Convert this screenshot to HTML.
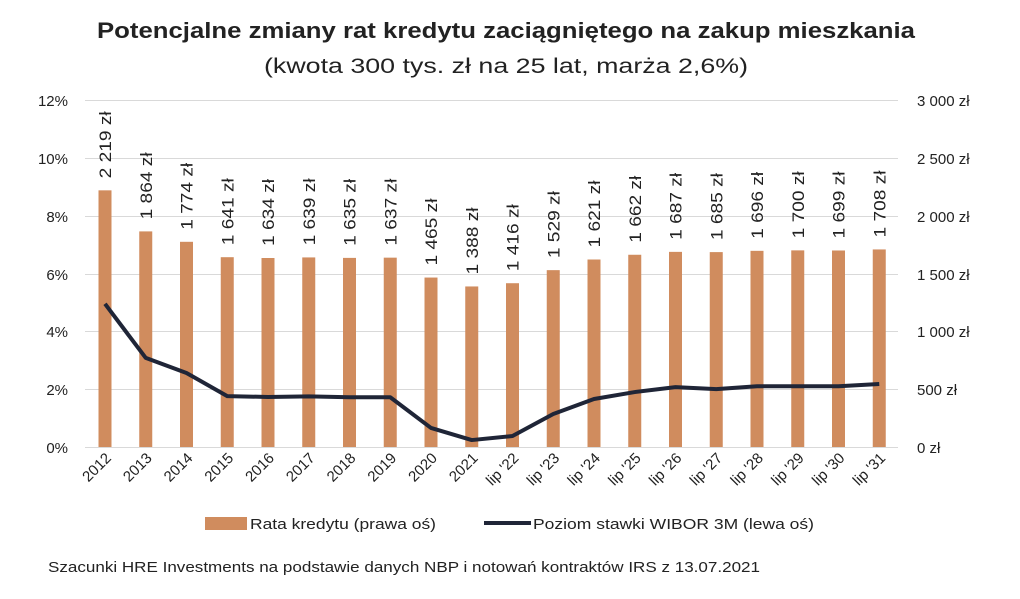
<!DOCTYPE html>
<html><head><meta charset="utf-8"><style>
body{margin:0;background:#fff;}
svg text{font-family:"Liberation Sans",sans-serif;fill:#222;}
</style></head><body>
<svg width="1020" height="594" viewBox="0 0 1020 594" xmlns="http://www.w3.org/2000/svg">
<text x="97" y="38" font-size="22" font-weight="bold" fill="#000" textLength="818" lengthAdjust="spacingAndGlyphs">Potencjalne zmiany rat kredytu zaciągniętego na zakup mieszkania</text>
<text x="264" y="73" font-size="21" textLength="484" lengthAdjust="spacingAndGlyphs">(kwota 300 tys. zł na 25 lat, marża 2,6%)</text>
<g stroke="#d9d9d9" stroke-width="1">
<line x1="85" x2="898" y1="100.5" y2="100.5"/><line x1="85" x2="898" y1="158.5" y2="158.5"/>
<line x1="85" x2="898" y1="216.5" y2="216.5"/><line x1="85" x2="898" y1="274.5" y2="274.5"/>
<line x1="85" x2="898" y1="331.5" y2="331.5"/><line x1="85" x2="898" y1="389.5" y2="389.5"/>
<line x1="85" x2="898" y1="447.5" y2="447.5"/>
</g>
<g font-size="15" text-anchor="end">
<text x="68" y="106">12%</text><text x="68" y="164">10%</text><text x="68" y="222">8%</text>
<text x="68" y="280">6%</text><text x="68" y="337">4%</text><text x="68" y="395">2%</text><text x="68" y="453">0%</text>
</g>
<g font-size="15">
<text x="917" y="106">3 000 zł</text><text x="917" y="164">2 500 zł</text><text x="917" y="222">2 000 zł</text>
<text x="917" y="280">1 500 zł</text><text x="917" y="337">1 000 zł</text><text x="917" y="395">500 zł</text><text x="917" y="453">0 zł</text>
</g>
<g id="bars" fill="#D08C5E"></g>
<g id="vl" font-size="17"></g>
<g id="xl" font-size="15"></g>
<polyline id="ln" fill="none" stroke="#1f2537" stroke-width="4" stroke-linejoin="round"/>
<rect x="205" y="517" width="42" height="13" fill="#D08C5E"/>
<text x="250" y="529" font-size="15" textLength="186" lengthAdjust="spacingAndGlyphs">Rata kredytu (prawa oś)</text>
<line x1="484" x2="531" y1="523" y2="523" stroke="#1f2537" stroke-width="4"/>
<text x="533" y="529" font-size="15" textLength="281" lengthAdjust="spacingAndGlyphs">Poziom stawki WIBOR 3M (lewa oś)</text>
<text x="48" y="572" font-size="15" textLength="712" lengthAdjust="spacingAndGlyphs">Szacunki HRE Investments na podstawie danych NBP i notowań kontraktów IRS z 13.07.2021</text>
</svg>
<script>
var cats=["2012","2013","2014","2015","2016","2017","2018","2019","2020","2021","lip '22","lip '23","lip '24","lip '25","lip '26","lip '27","lip '28","lip '29","lip '30","lip '31"];
var vals=[2219,1864,1774,1641,1634,1639,1635,1637,1465,1388,1416,1529,1621,1662,1687,1685,1696,1700,1699,1708];
var w=[4.95,3.08,2.56,1.76,1.73,1.75,1.72,1.72,0.66,0.24,0.38,1.14,1.66,1.9,2.07,2.0,2.1,2.1,2.1,2.18];
var ns="http://www.w3.org/2000/svg",b=document.getElementById("bars"),vl=document.getElementById("vl"),xl=document.getElementById("xl"),pts=[];
function fmt(v){var s=String(v);return s.length>3?s.slice(0,s.length-3)+" "+s.slice(-3):s;}
for(var i=0;i<20;i++){var cx=105+i*40.75;var y=447-vals[i]/3000*347;
var r=document.createElementNS(ns,"rect");r.setAttribute("x",cx-6.5);r.setAttribute("y",y);r.setAttribute("width",13);r.setAttribute("height",447-y);b.appendChild(r);
var t=document.createElementNS(ns,"text");t.setAttribute("transform","translate("+(cx+6)+","+(y-12)+") rotate(-90)");t.setAttribute("textLength","67");t.setAttribute("lengthAdjust","spacingAndGlyphs");t.textContent=fmt(vals[i])+" zł";vl.appendChild(t);
var x=document.createElementNS(ns,"text");x.setAttribute("text-anchor","end");x.setAttribute("transform","translate("+(cx+7)+",459) rotate(-45)");x.textContent=cats[i];xl.appendChild(x);
pts.push(cx+","+(447-w[i]*28.92));}
document.getElementById("ln").setAttribute("points",pts.join(" "));
</script>
</body></html>
